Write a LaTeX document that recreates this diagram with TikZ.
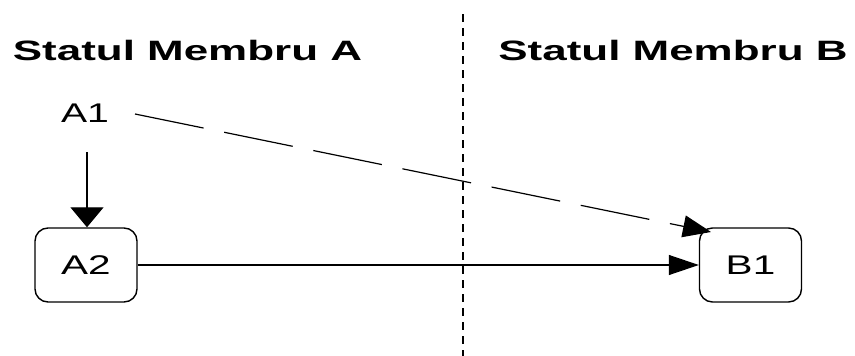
\documentclass[tikz,border=0pt]{standalone}
\usepackage{fontspec}
\setmainfont{Liberation Sans}
\usetikzlibrary{arrows.meta}
\begin{document}
\begin{tikzpicture}[x=1pt,y=-1pt,
  title/.style={inner sep=0pt, font=\fontsize{28}{30}\selectfont\bfseries},
  lbl/.style={inner sep=0pt, font=\fontsize{27}{29}\selectfont},
  statebox/.style={draw, line width=1.4pt, rounded corners=13pt, minimum width=102pt, minimum height=74pt, inner sep=0pt, font=\fontsize{27}{29}\selectfont},
  conn/.style={line width=1.2pt},
  vhead/.style={-{Triangle[length=20pt,width=33pt]}},
  hhead/.style={-{Triangle[length=30pt,width=20pt]}},
  dhead/.style={-{Triangle[length=28pt,width=22pt]}}
]
\useasboundingbox (0,0) rectangle (855,356);
\node[title] (tA) at (187.5,50) {\scalebox{1.57}[1]{Statul Membru A}};
\node[title] (tB) at (673,50) {\scalebox{1.57}[1]{Statul Membru B}};
\coordinate (vtop) at (463,14);
\coordinate (vbot) at (463,356);
\draw[line width=2pt, dash pattern=on 8pt off 6pt] (vtop) -- (vbot);
\node[lbl, minimum width=46pt, minimum height=20pt] (A1) at (85,113) {\scalebox{1.45}[1]{A1}};
\node[statebox] (A2) at (86,265) {\scalebox{1.5}[1]{A2}};
\node[statebox] (B1) at (750.5,265) {\scalebox{1.5}[1]{B1}};
\coordinate (a1s) at (87,152);
\coordinate (a1d) at (135,114);
\coordinate (b1c) at (711,232);
\draw[conn, vhead] (a1s) -- (A2.north -| a1s);
\draw[conn, hhead] (A2.east) -- (B1.west);
\draw[conn, dhead, dash pattern=on 70pt off 21pt] (a1d) -- (b1c);
\end{tikzpicture}
\end{document}
